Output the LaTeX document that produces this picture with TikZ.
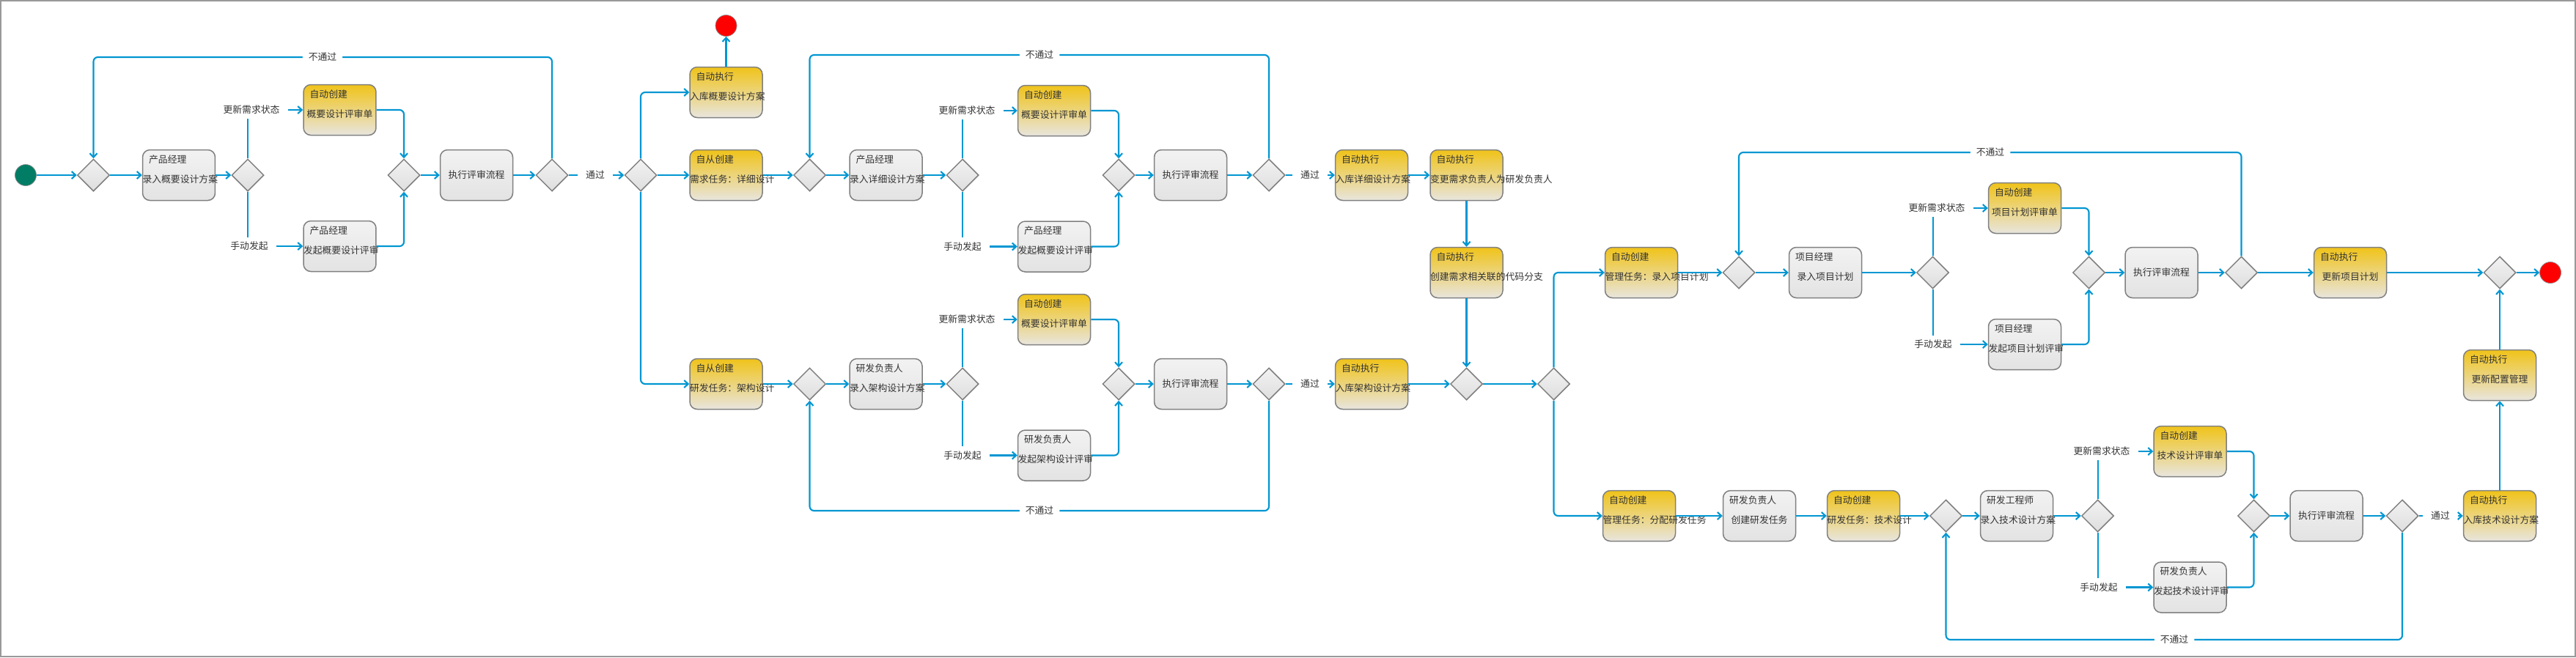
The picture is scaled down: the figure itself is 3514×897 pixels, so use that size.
\documentclass[tikz,border=0pt]{standalone}
\usepackage{fontspec}
\setmainfont{Noto Sans CJK SC}
\usetikzlibrary{arrows.meta,shapes.geometric}
\definecolor{flow}{RGB}{0,150,210}
\definecolor{gold}{RGB}{240,195,25}
\definecolor{sand}{RGB}{232,229,222}
\definecolor{startc}{RGB}{0,125,100}
\begin{document}
\begin{tikzpicture}[
        x=0.02cm, y=-0.02cm,
        font=\fontsize{7.3pt}{8.8pt}\selectfont,
        every node/.style={text=black!80},
        box/.style={draw=black!50, line width=0.03cm, rounded corners=0.2cm, minimum height=1.38cm, text width=1.98cm, inner xsep=0pt, align=center, top color=black!5, bottom color=black!11},
        task/.style={box, text height=0.4cm, text depth=0pt},
        autobox/.style={task, top color=gold, bottom color=sand},
        tag/.style={anchor=north west, inner sep=0pt, xshift=0.18cm, yshift=-0.15cm},
        gate/.style={diamond, draw=black!50, line width=0.03cm, minimum size=0.88cm, inner sep=0pt, top color=black!5, bottom color=black!13},
        startdot/.style={circle, draw=black!45, fill=startc, minimum size=0.58cm, inner sep=0pt},
        enddot/.style={circle, draw=black!45, fill=red, minimum size=0.58cm, inner sep=0pt},
        note/.style={inner xsep=0.22cm, inner ysep=0.12cm},
        fail/.style={fill=white, inner xsep=0.16cm, inner ysep=0.06cm},
        link/.style={draw=flow, line width=0.04cm},
        arrow/.style={draw=flow, line width=0.042cm, rounded corners=0.12cm, -{Straight Barb[length=1.1mm, width=2mm]}}
        ]
        \useasboundingbox (0,0) rectangle (3514,897);
        \draw[black!40, line width=0.04cm] (1,1) rectangle (3513,896);

        \node[startdot] (s0) at (35,239) {};
        \node[gate] (m1) at (127.5,239) {};
        \node[task, label={[tag]north west:产品经理}] (b1) at (244,239) {录入概要设计方案};
        \node[gate] (s1) at (338,239) {};
        \node[note] (u1) at (343,150) {更新需求状态};
        \node[autobox, label={[tag]north west:自动创建}] (a1) at (463.5,150) {概要设计评审单};
        \node[note] (h1) at (340,336) {手动发起};
        \node[task, label={[tag]north west:产品经理}] (c1) at (463.5,336) {发起概要设计评审};
        \node[gate] (j1) at (551,239) {};
        \node[box] (r1) at (650,239) {执行评审流程};
        \node[gate] (d1) at (753,239) {};
        \coordinate (l1) at (440,78);
        \node[note] (p1) at (812,239) {通过};
        \node[gate] (e1) at (874,239) {};
        \node[autobox, label={[tag]north west:自动执行}] (k1) at (990.5,126) {入库概要设计方案};
        \node[enddot] (z1) at (990.5,35) {};
        \node[autobox, label={[tag]north west:自从创建}] (n2) at (990.5,239) {需求任务：详细设计};
        \node[autobox, label={[tag]north west:自从创建}] (n3) at (990.5,524) {研发任务：架构设计};

        \node[gate] (m2) at (1104.5,239) {};
        \node[task, label={[tag]north west:产品经理}] (b2) at (1208.5,239) {录入详细设计方案};
        \node[gate] (s2) at (1313,239) {};
        \node[note] (u2) at (1319,151) {更新需求状态};
        \node[autobox, label={[tag]north west:自动创建}] (a2) at (1438,151) {概要设计评审单};
        \node[note] (h2) at (1313,336.5) {手动发起};
        \node[task, label={[tag]north west:产品经理}] (c2) at (1438,336.5) {发起概要设计评审};
        \node[gate] (j2) at (1526,239) {};
        \node[box] (r2) at (1624,239) {执行评审流程};
        \node[gate] (d2) at (1731,239) {};
        \coordinate (l2) at (1418,75);
        \node[note] (p2) at (1787,239) {通过};
        \node[autobox, label={[tag]north west:自动执行}] (f2) at (1871,239) {入库详细设计方案};
        \node[autobox, label={[tag]north west:自动执行}] (g2) at (2000.5,239) {变更需求负责人为研发负责人};
        \node[autobox, label={[tag]north west:自动执行}] (g3) at (2000.5,372) {创建需求相关联的代码分支};

        \node[gate] (m3) at (1104.5,524) {};
        \node[task, label={[tag]north west:研发负责人}] (b3) at (1208.5,524) {录入架构设计方案};
        \node[gate] (s3) at (1313,524) {};
        \node[note] (u3) at (1319,436) {更新需求状态};
        \node[autobox, label={[tag]north west:自动创建}] (a3) at (1438,436) {概要设计评审单};
        \node[note] (h3) at (1313,621.5) {手动发起};
        \node[task, label={[tag]north west:研发负责人}] (c3) at (1438,621.5) {发起架构设计评审};
        \node[gate] (j3) at (1526,524) {};
        \node[box] (r3) at (1624,524) {执行评审流程};
        \node[gate] (d3) at (1731,524) {};
        \coordinate (l3) at (1418,697);
        \node[note] (p3) at (1787,524) {通过};
        \node[autobox, label={[tag]north west:自动执行}] (f3) at (1871,524) {入库架构设计方案};
        \node[gate] (x1) at (2000.5,524) {};
        \node[gate] (x2) at (2119.5,524) {};

        \node[autobox, label={[tag]north west:自动创建}] (t1) at (2239,372) {管理任务：录入项目计划};
        \node[gate] (m4) at (2372,372) {};
        \node[task, label={[tag]north west:项目经理}] (b4) at (2490,372) {录入项目计划};
        \node[gate] (s4) at (2636.5,372) {};
        \node[note] (u4) at (2642,284) {更新需求状态};
        \node[autobox, label={[tag]north west:自动创建}] (a4) at (2762,284) {项目计划评审单};
        \node[note] (h4) at (2637,470) {手动发起};
        \node[task, label={[tag]north west:项目经理}] (c4) at (2762,470) {发起项目计划评审};
        \node[gate] (j4) at (2849.5,372) {};
        \node[box] (r4) at (2948.5,372) {执行评审流程};
        \node[gate] (d4) at (3057.5,372) {};
        \coordinate (l4) at (2715,208);
        \node[autobox, label={[tag]north west:自动执行}] (k4) at (3206,372) {更新项目计划};
        \node[gate] (fin) at (3410,372) {};
        \node[enddot] (z2) at (3479,372) {};

        \node[autobox, label={[tag]north west:自动创建}] (t2) at (2236,704) {管理任务：分配研发任务};
        \node[task, label={[tag]north west:研发负责人}] (t3) at (2400,704) {创建研发任务};
        \node[autobox, label={[tag]north west:自动创建}] (t4) at (2542,704) {研发任务：技术设计};
        \node[gate] (m5) at (2654.5,704) {};
        \node[task, label={[tag]north west:研发工程师}] (b5) at (2751,704) {录入技术设计方案};
        \node[gate] (s5) at (2861.5,704) {};
        \node[note] (u5) at (2867,616) {更新需求状态};
        \node[autobox, label={[tag]north west:自动创建}] (a5) at (2987.5,616) {技术设计评审单};
        \node[note] (h5) at (2863,801.5) {手动发起};
        \node[task, label={[tag]north west:研发负责人}] (c5) at (2987.5,801.5) {发起技术设计评审};
        \node[gate] (j5) at (3074.5,704) {};
        \node[box] (r5) at (3173.5,704) {执行评审流程};
        \node[gate] (d5) at (3277,704) {};
        \coordinate (l5) at (2966,873);
        \node[note] (p5) at (3329,704) {通过};
        \node[autobox, label={[tag]north west:自动执行}] (k5) at (3410,704) {入库技术设计方案};
        \node[autobox, label={[tag]north west:自动执行}] (k6) at (3410,512) {更新配置管理};

        \draw[arrow] (s0) -- (m1);
        \draw[arrow] (m1) -- (b1);
        \draw[arrow] (b1) -- (s1);
        \draw[link] (s1.north) -- (s1.north |- u1.south);
        \draw[link] (s1.south) -- (s1.south |- h1.north);
        \draw[arrow] (u1) -- (a1);
        \draw[arrow] (h1) -- (c1);
        \draw[arrow] (a1) -| (j1);
        \draw[arrow] (c1) -| (j1);
        \draw[arrow] (j1) -- (r1);
        \draw[arrow] (r1) -- (d1);
        \draw[arrow] (d1.north) |- (l1) node[fail] {不通过} -| (m1.north);
        \draw[link] (d1) -- (p1);
        \draw[arrow] (p1) -- (e1);
        \draw[arrow] (e1) |- (k1);
        \draw[arrow] (k1) -- (z1);
        \draw[arrow] (e1) -- (n2);
        \draw[arrow] (e1) |- (n3);

        \draw[arrow] (n2) -- (m2);
        \draw[arrow] (m2) -- (b2);
        \draw[arrow] (b2) -- (s2);
        \draw[link] (s2.north) -- (s2.north |- u2.south);
        \draw[link] (s2.south) -- (s2.south |- h2.north);
        \draw[arrow] (u2) -- (a2);
        \draw[arrow] (h2) -- (c2);
        \draw[arrow] (a2) -| (j2);
        \draw[arrow] (c2) -| (j2);
        \draw[arrow] (j2) -- (r2);
        \draw[arrow] (r2) -- (d2);
        \draw[arrow] (d2.north) |- (l2) node[fail] {不通过} -| (m2.north);
        \draw[link] (d2) -- (p2);
        \draw[arrow] (p2) -- (f2);
        \draw[arrow] (f2) -- (g2);
        \draw[arrow] (g2) -- (g3);
        \draw[arrow] (g3) -- (x1);

        \draw[arrow] (n3) -- (m3);
        \draw[arrow] (m3) -- (b3);
        \draw[arrow] (b3) -- (s3);
        \draw[link] (s3.north) -- (s3.north |- u3.south);
        \draw[link] (s3.south) -- (s3.south |- h3.north);
        \draw[arrow] (u3) -- (a3);
        \draw[arrow] (h3) -- (c3);
        \draw[arrow] (a3) -| (j3);
        \draw[arrow] (c3) -| (j3);
        \draw[arrow] (j3) -- (r3);
        \draw[arrow] (r3) -- (d3);
        \draw[arrow] (d3.south) |- (l3) node[fail] {不通过} -| (m3.south);
        \draw[link] (d3) -- (p3);
        \draw[arrow] (p3) -- (f3);
        \draw[arrow] (f3) -- (x1);
        \draw[arrow] (x1) -- (x2);
        \draw[arrow] (x2) |- (t1);
        \draw[arrow] (x2) |- (t2);

        \draw[arrow] (t1) -- (m4);
        \draw[arrow] (m4) -- (b4);
        \draw[arrow] (b4) -- (s4);
        \draw[link] (s4.north) -- (s4.north |- u4.south);
        \draw[link] (s4.south) -- (s4.south |- h4.north);
        \draw[arrow] (u4) -- (a4);
        \draw[arrow] (h4) -- (c4);
        \draw[arrow] (a4) -| (j4);
        \draw[arrow] (c4) -| (j4);
        \draw[arrow] (j4) -- (r4);
        \draw[arrow] (r4) -- (d4);
        \draw[arrow] (d4.north) |- (l4) node[fail] {不通过} -| (m4.north);
        \draw[arrow] (d4) -- (k4);
        \draw[arrow] (k4) -- (fin);
        \draw[arrow] (fin) -- (z2);

        \draw[arrow] (t2) -- (t3);
        \draw[arrow] (t3) -- (t4);
        \draw[arrow] (t4) -- (m5);
        \draw[arrow] (m5) -- (b5);
        \draw[arrow] (b5) -- (s5);
        \draw[link] (s5.north) -- (s5.north |- u5.south);
        \draw[link] (s5.south) -- (s5.south |- h5.north);
        \draw[arrow] (u5) -- (a5);
        \draw[arrow] (h5) -- (c5);
        \draw[arrow] (a5) -| (j5);
        \draw[arrow] (c5) -| (j5);
        \draw[arrow] (j5) -- (r5);
        \draw[arrow] (r5) -- (d5);
        \draw[arrow] (d5.south) |- (l5) node[fail] {不通过} -| (m5.south);
        \draw[link] (d5) -- (p5);
        \draw[arrow] (p5) -- (k5);
        \draw[arrow] (k5) -- (k6);
        \draw[arrow] (k6) -- (fin);
    \end{tikzpicture}
\end{document}
